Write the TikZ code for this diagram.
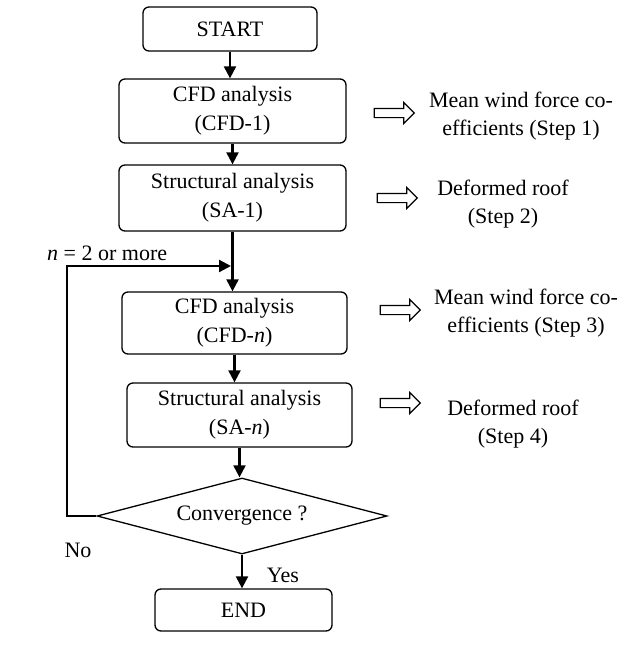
\documentclass[tikz,border=0pt]{standalone}
\usepackage{fontspec}
\setmainfont{Liberation Serif}
\usetikzlibrary{arrows.meta,shapes.geometric,shapes.arrows}
\tikzstyle{block}=[draw,rounded corners=6pt,line width=1.3pt,align=center,inner sep=0pt,font=\fontsize{22}{29}\selectfont]
\tikzstyle{decision}=[diamond,draw,line width=1.3pt,aspect=3.8,minimum width=290pt,minimum height=76pt,inner sep=0pt,font=\fontsize{22}{29}\selectfont]
\tikzstyle{flow}=[draw,line width=2.2pt,-{Triangle[length=12pt,width=12pt]}]
\tikzstyle{hollow}=[single arrow,draw,line width=1.2pt,inner sep=4pt,minimum height=40pt,single arrow head extend=6pt]
\tikzstyle{note}=[align=center,inner sep=0pt,font=\fontsize{22}{28}\selectfont]

\begin{document}
\begin{tikzpicture}[x=1pt,y=-1pt]
\useasboundingbox (0,0) rectangle (644,656);

% main column
    \foreach \pos/\name/\w/\h/\label in {{(230,29)/start/174/44/START}, {(232.5,111)/cfd1/227/64/{CFD analysis\\(CFD-1)}}, {(232.5,198)/sa1/227/66/{Structural analysis\\(SA-1)}}, {(234.5,323)/cfdn/225/62/{CFD analysis\\(CFD-\textit{n})}}, {(239.5,415)/san/225/64/{Structural analysis\\(SA-\textit{n})}}, {(243.5,610)/finish/177/42/END}}
        \node[block,minimum width=\w pt,minimum height=\h pt] (\name) at \pos {\label};
    \node[decision] (conv) at (242,516) {Convergence ?};

    % connect
    \foreach \source/\dest in {start/cfd1, cfd1/sa1, sa1/cfdn, cfdn/san, san/conv, conv/finish}
        \path[flow] (\source) -- (\source |- \dest.north);

    % loop back
    \coordinate (merge) at (231,266);
    \path[flow] (conv.west) -- ++(-29,0) |- (merge);
    \node[note,anchor=west] (loop) at (47,253) {\textit{n} = 2 or more};
    \node[note] (no) at (78,550) {No};
    \node[note] (yes) at (283,575) {Yes};

%results
    \foreach \pos/\name in {{(392,113)/h1}, {(395,198)/h2}, {(398,310)/h3}, {(398,403)/h4}}
        \node[hollow] (\name) at \pos {};
    \foreach \pos/\name/\label in {{(521,116)/res1/{Mean wind force co-\\efficients (Step 1)}}, {(503,204)/res2/{Deformed roof\\(Step 2)}}, {(526,313)/res3/{Mean wind force co-\\efficients (Step 3)}}, {(513,424)/res4/{Deformed roof\\(Step 4)}}}
        \node[note] (\name) at \pos {\label};

\end{tikzpicture}
\end{document}
